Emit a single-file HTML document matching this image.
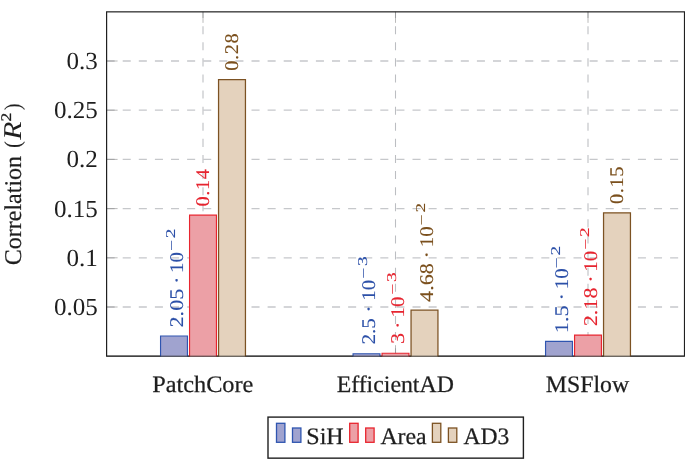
<!DOCTYPE html><html><head><meta charset="utf-8"><style>html,body{margin:0;padding:0;background:#fff;overflow:hidden}body{width:685px;height:459px;position:relative;font-family:"Liberation Serif",serif}svg{position:absolute;left:0;top:0;display:block;will-change:transform}</style></head><body>
<svg width="685" height="459" viewBox="0 0 685 459" text-rendering="geometricPrecision">
<g fill="none" stroke-dasharray="8.05 8.05">
<path d="M203.00 356.20V11.85" stroke="#bcbec2" stroke-width="1.07"/>
<path d="M395.50 356.20V11.85" stroke="#bcbec2" stroke-width="1.07"/>
<path d="M588.00 356.20V11.85" stroke="#bcbec2" stroke-width="1.07"/>
<path d="M106.60 307.00H684.50" stroke="#c6c8cb" stroke-width="1.3"/>
<path d="M106.60 257.80H684.50" stroke="#c6c8cb" stroke-width="1.3"/>
<path d="M106.60 208.60H684.50" stroke="#c6c8cb" stroke-width="1.3"/>
<path d="M106.60 159.40H684.50" stroke="#c6c8cb" stroke-width="1.3"/>
<path d="M106.60 110.20H684.50" stroke="#c6c8cb" stroke-width="1.3"/>
<path d="M106.60 61.00H684.50" stroke="#c6c8cb" stroke-width="1.3"/>
</g>
<g stroke="#808080" stroke-width="0.55" fill="none">
<path d="M106.60 307.00h11"/>
<path d="M106.60 257.80h11"/>
<path d="M106.60 208.60h11"/>
<path d="M106.60 159.40h11"/>
<path d="M106.60 110.20h11"/>
<path d="M106.60 61.00h11"/>
<path d="M203.00 356.20v-11M203.00 11.85v11"/>
<path d="M395.50 356.20v-11M395.50 11.85v11"/>
<path d="M588.00 356.20v-11M588.00 11.85v11"/>
</g>
<rect x="106.60" y="11.85" width="577.90" height="344.30" fill="none" stroke="#202020" stroke-width="1.2"/>
<path d="M160.55 356.50V336.03H187.45V356.50" fill="#a0a3cf" stroke="#2f55b0" stroke-width="1.15"/>
<path d="M189.55 356.50V215.19H216.45V356.50" fill="#eca0a6" stroke="#e8252f" stroke-width="1.15"/>
<path d="M218.55 356.50V79.70H245.45V356.50" fill="#e4d2bd" stroke="#7c5223" stroke-width="1.25"/>
<path d="M353.05 356.50V353.74H379.95V356.50" fill="#a0a3cf" stroke="#2f55b0" stroke-width="1.15"/>
<path d="M382.05 356.50V353.25H408.95V356.50" fill="#eca0a6" stroke="#e8252f" stroke-width="1.15"/>
<path d="M411.05 356.50V310.15H437.95V356.50" fill="#e4d2bd" stroke="#7c5223" stroke-width="1.25"/>
<path d="M545.55 356.50V341.44H572.45V356.50" fill="#a0a3cf" stroke="#2f55b0" stroke-width="1.15"/>
<path d="M574.55 356.50V335.14H601.45V356.50" fill="#eca0a6" stroke="#e8252f" stroke-width="1.15"/>
<path d="M603.55 356.50V212.83H630.45V356.50" fill="#e4d2bd" stroke="#7c5223" stroke-width="1.25"/>
<path d="M106.60 356.15H684.50" stroke="#202020" stroke-width="1.1" stroke-opacity="0.5" fill="none"/>
<text transform="translate(97.9 314.95) scale(1.020 1)" font-family="Liberation Serif, serif" font-size="24.6" fill="#1e1e1e" text-anchor="end">0.05</text>
<text transform="translate(97.9 265.75) scale(1.020 1)" font-family="Liberation Serif, serif" font-size="24.6" fill="#1e1e1e" text-anchor="end">0.1</text>
<text transform="translate(97.9 216.55) scale(1.020 1)" font-family="Liberation Serif, serif" font-size="24.6" fill="#1e1e1e" text-anchor="end">0.15</text>
<text transform="translate(97.9 167.35) scale(1.020 1)" font-family="Liberation Serif, serif" font-size="24.6" fill="#1e1e1e" text-anchor="end">0.2</text>
<text transform="translate(97.9 118.15) scale(1.020 1)" font-family="Liberation Serif, serif" font-size="24.6" fill="#1e1e1e" text-anchor="end">0.25</text>
<text transform="translate(97.9 68.95) scale(1.020 1)" font-family="Liberation Serif, serif" font-size="24.6" fill="#1e1e1e" text-anchor="end">0.3</text>
<text transform="translate(202.75 392.2) scale(1.030 1)" font-family="Liberation Serif, serif" font-size="23.6" fill="#1e1e1e" stroke="#1e1e1e" stroke-width="0.25" text-anchor="middle">PatchCore</text>
<text transform="translate(395.25 392.2) scale(1.009 1)" font-family="Liberation Serif, serif" font-size="23.6" fill="#1e1e1e" stroke="#1e1e1e" stroke-width="0.25" text-anchor="middle">EfficientAD</text>
<text transform="translate(587.45 392.2) scale(1.009 1)" font-family="Liberation Serif, serif" font-size="23.6" fill="#1e1e1e" stroke="#1e1e1e" stroke-width="0.25" text-anchor="middle">MSFlow</text>
<text transform="translate(20.90 265.20) rotate(-90) scale(1.000 1)" font-family="Liberation Serif, serif" font-size="24.00" fill="#1e1e1e" stroke="#1e1e1e" stroke-width="0.20" >Correlation</text>
<text transform="translate(19.90 147.80) rotate(-90) scale(0.860 1)" font-family="Liberation Serif, serif" font-size="22.60" fill="#1e1e1e" stroke="#1e1e1e" stroke-width="0.10" >(</text>
<text transform="translate(21.10 139.80) rotate(-90) scale(1.158 1)" font-family="Liberation Serif, serif" font-size="25.70" fill="#1e1e1e" stroke="#1e1e1e" stroke-width="0.00" font-style="italic">R</text>
<text transform="translate(10.60 121.50) rotate(-90) scale(1.190 1)" font-family="Liberation Serif, serif" font-size="14.70" fill="#1e1e1e" stroke="#1e1e1e" stroke-width="0.30" >2</text>
<text transform="translate(19.90 110.10) rotate(-90) scale(0.860 1)" font-family="Liberation Serif, serif" font-size="22.60" fill="#1e1e1e" stroke="#1e1e1e" stroke-width="0.10" >)</text>
<g transform="translate(182.60 326.60) rotate(-90)" font-family="Liberation Serif, serif" fill="#2c50a8" stroke="#2c50a8" stroke-width="0.1">
<text transform="translate(-0.90 0) scale(1.145 1)" font-size="19.4">2.05</text>
<text transform="translate(46.25 0) scale(1.145 1)" font-size="19.4" text-anchor="middle">·</text>
<text transform="translate(53.65 0) scale(1.090 1)" font-size="19.4">10</text>
<text transform="translate(75.55 -7.0) scale(1.470 1)" font-size="13.5">−</text>
<text transform="translate(88.45 -7.85) scale(1.430 1)" font-size="13.5">2</text>
</g>
<g transform="translate(209.35 205.20) rotate(-90)" font-family="Liberation Serif, serif" fill="#e6242f" stroke="#e6242f" stroke-width="0.1">
<text transform="translate(-1.20 0) scale(1.050 1)" font-size="19.4" letter-spacing="0.53">0.14</text>
</g>
<g transform="translate(238.35 69.50) rotate(-90)" font-family="Liberation Serif, serif" fill="#7a4f1c" stroke="#7a4f1c" stroke-width="0.1">
<text transform="translate(-1.20 0) scale(1.050 1)" font-size="19.4" letter-spacing="0.53">0.28</text>
</g>
<g transform="translate(375.10 343.70) rotate(-90)" font-family="Liberation Serif, serif" fill="#2c50a8" stroke="#2c50a8" stroke-width="0.1">
<text transform="translate(-0.90 0) scale(1.090 1)" font-size="19.4">2.5</text>
<text transform="translate(34.55 0) scale(1.145 1)" font-size="19.4" text-anchor="middle">·</text>
<text transform="translate(42.95 0) scale(1.090 1)" font-size="19.4">10</text>
<text transform="translate(64.85 -7.0) scale(1.470 1)" font-size="13.5">−</text>
<text transform="translate(77.75 -7.85) scale(1.430 1)" font-size="13.5">3</text>
</g>
<g transform="translate(404.10 343.00) rotate(-90)" font-family="Liberation Serif, serif" fill="#e6242f" stroke="#e6242f" stroke-width="0.1">
<text transform="translate(-0.90 0) scale(1.145 1)" font-size="19.4">3</text>
<text transform="translate(17.60 0) scale(1.145 1)" font-size="19.4" text-anchor="middle">·</text>
<text transform="translate(25.50 0) scale(1.090 1)" font-size="19.4">10</text>
<text transform="translate(48.20 -7.0) scale(1.470 1)" font-size="13.5">−</text>
<text transform="translate(61.10 -7.85) scale(1.430 1)" font-size="13.5">3</text>
</g>
<g transform="translate(433.10 301.00) rotate(-90)" font-family="Liberation Serif, serif" fill="#7a4f1c" stroke="#7a4f1c" stroke-width="0.1">
<text transform="translate(-0.90 0) scale(1.145 1)" font-size="19.4">4.68</text>
<text transform="translate(46.25 0) scale(1.145 1)" font-size="19.4" text-anchor="middle">·</text>
<text transform="translate(53.65 0) scale(1.090 1)" font-size="19.4">10</text>
<text transform="translate(75.55 -7.0) scale(1.470 1)" font-size="13.5">−</text>
<text transform="translate(88.45 -7.85) scale(1.430 1)" font-size="13.5">2</text>
</g>
<g transform="translate(567.60 332.30) rotate(-90)" font-family="Liberation Serif, serif" fill="#2c50a8" stroke="#2c50a8" stroke-width="0.1">
<text transform="translate(-0.90 0) scale(1.145 1)" font-size="19.4">1.5</text>
<text transform="translate(35.55 0) scale(1.145 1)" font-size="19.4" text-anchor="middle">·</text>
<text transform="translate(42.95 0) scale(1.090 1)" font-size="19.4">10</text>
<text transform="translate(63.85 -7.0) scale(1.470 1)" font-size="13.5">−</text>
<text transform="translate(76.75 -7.85) scale(1.430 1)" font-size="13.5">2</text>
</g>
<g transform="translate(596.60 325.40) rotate(-90)" font-family="Liberation Serif, serif" fill="#e6242f" stroke="#e6242f" stroke-width="0.1">
<text transform="translate(-0.90 0) scale(1.145 1)" font-size="19.4">2.18</text>
<text transform="translate(46.25 0) scale(1.145 1)" font-size="19.4" text-anchor="middle">·</text>
<text transform="translate(53.65 0) scale(1.090 1)" font-size="19.4">10</text>
<text transform="translate(75.55 -7.0) scale(1.470 1)" font-size="13.5">−</text>
<text transform="translate(88.45 -7.85) scale(1.430 1)" font-size="13.5">2</text>
</g>
<g transform="translate(623.35 202.70) rotate(-90)" font-family="Liberation Serif, serif" fill="#7a4f1c" stroke="#7a4f1c" stroke-width="0.1">
<text transform="translate(-1.20 0) scale(1.050 1)" font-size="19.4" letter-spacing="0.53">0.15</text>
</g>
<rect x="268.0" y="417.1" width="255.4" height="41.05" fill="#fff" stroke="#202020" stroke-width="1.4"/>
<rect x="276.50" y="423.3" width="8.4" height="19.0" fill="#a0a3cf" stroke="#2f55b0" stroke-width="1.3"/>
<rect x="292.50" y="428.0" width="8.4" height="14.3" fill="#a0a3cf" stroke="#2f55b0" stroke-width="1.3"/>
<rect x="349.70" y="423.3" width="8.4" height="19.0" fill="#eca0a6" stroke="#e8252f" stroke-width="1.3"/>
<rect x="365.70" y="428.0" width="8.4" height="14.3" fill="#eca0a6" stroke="#e8252f" stroke-width="1.3"/>
<rect x="432.40" y="423.3" width="8.4" height="19.0" fill="#e4d2bd" stroke="#7c5223" stroke-width="1.3"/>
<rect x="448.40" y="428.0" width="8.4" height="14.3" fill="#e4d2bd" stroke="#7c5223" stroke-width="1.3"/>
<text transform="translate(306.30 444.2) scale(1.020 1)" font-family="Liberation Serif, serif" font-size="23.6" fill="#1e1e1e" stroke="#1e1e1e" stroke-width="0.25">SiH</text>
<text transform="translate(380.40 444.2) scale(1.010 1)" font-family="Liberation Serif, serif" font-size="23.6" fill="#1e1e1e" stroke="#1e1e1e" stroke-width="0.25">Area</text>
<text transform="translate(463.40 444.2) scale(1.000 1)" font-family="Liberation Serif, serif" font-size="23.6" fill="#1e1e1e" stroke="#1e1e1e" stroke-width="0.25">AD3</text>
</svg>
</body></html>
